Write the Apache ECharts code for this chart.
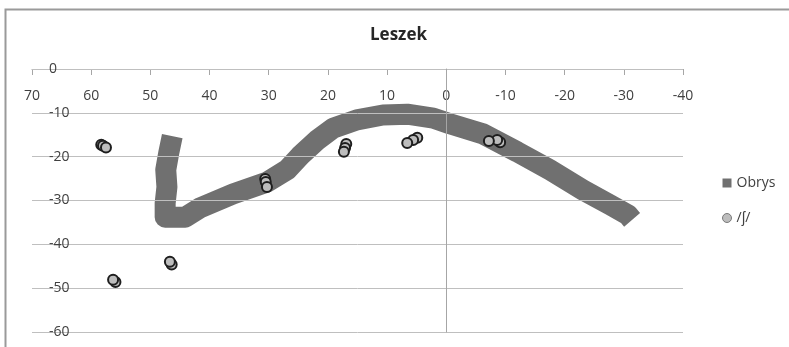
<!DOCTYPE html>
<html>
<head>
<meta charset="utf-8">
<script src="https://cdn.jsdelivr.net/npm/echarts@6/dist/echarts.min.js"></script>
<style>
  html, body { margin: 0; padding: 0; background: #fff; }
  #chart { width: 789px; height: 347px; }
</style>
</head>
<body>
<div id="chart"></div>
<script>
// Palate outline traced as one thick stroke (x, y)
const obrysX = [46.3, 46.9, 47.4, 47.2, 47.5, 47.5, 44.1, 41.6, 36.0, 30.3, 26.9, 24.7, 21.8, 19.1, 15.1, 10.7, 6.6, 2.2, -0.6, -6.2, -12.0, -17.5, -23.1, -27.7, -30.7, -31.4];
const obrysY = [-15.3, -19.2, -23.0, -26.9, -30.6, -33.8, -33.8, -31.7, -28.5, -25.8, -23.0, -19.8, -16.2, -13.5, -11.6, -10.5, -10.3, -11.2, -12.5, -14.8, -18.9, -23.0, -27.6, -31.0, -33.3, -34.4];

// Tongue sensor positions for /ʃ/ (several repetitions per sensor)
const shX = [58.3, 58.0, 57.5, 55.9, 56.3, 46.4, 46.7, 30.6, 30.5, 30.3, 16.9, 17.1, 17.3, 4.9, 5.6, 6.6, -9.1, -8.6, -7.2];
const shY = [-17.3, -17.5, -17.9, -48.6, -48.1, -44.6, -44.0, -25.1, -25.8, -26.9, -17.1, -18.0, -18.9, -15.7, -16.2, -16.9, -16.7, -16.2, -16.4];

const seriesNames = ['Obrys', '/ʃ/'];
const titleText = 'Leszek';

const FONT = '"Open Sans", "Noto Sans", "DejaVu Sans", sans-serif';
const pair = (xs, ys) => xs.map((x, i) => [x, ys[i]]);

const chart = echarts.init(document.getElementById('chart'), null, { renderer: 'canvas' });

chart.setOption({
  animation: false,
  backgroundColor: '#ffffff',
  graphic: [{
    type: 'rect',
    left: 3, top: 7,
    shape: { width: 900, height: 500 },
    style: { fill: 'none', stroke: '#9a9a9a', lineWidth: 2 },
    silent: true
  }],
  title: {
    text: titleText,
    left: 370, top: 27,
    padding: 0,
    textStyle: { fontFamily: FONT, fontSize: 17, fontWeight: 'bold', color: '#262626' }
  },
  legend: {
    orient: 'vertical',
    left: 722, top: 176,
    padding: 0,
    itemWidth: 9, itemHeight: 9,
    itemGap: 21,
    textStyle: { fontFamily: FONT, fontSize: 14, color: '#404040', lineHeight: 14 },
    data: [
      { name: seriesNames[0], icon: 'rect' },
      { name: seriesNames[1], icon: 'circle', itemStyle: { color: '#bdbdbd', borderColor: '#7a7a7a', borderWidth: 1 } }
    ]
  },
  grid: { left: 32, right: 106, top: 69, bottom: 15, containLabel: false },
  xAxis: {
    type: 'value',
    position: 'top',
    inverse: true,
    min: -40, max: 70, interval: 10,
    axisLine: { onZero: false, lineStyle: { color: '#a6a6a6', width: 1 } },
    axisTick: { show: true, inside: true, length: 6, lineStyle: { color: '#a6a6a6' } },
    axisLabel: { inside: true, margin: 20, fontFamily: FONT, fontSize: 14, color: '#404040' },
    splitLine: { show: false }
  },
  yAxis: {
    type: 'value',
    min: -60, max: 0, interval: 10,
    axisLine: { show: true, onZero: true, lineStyle: { color: '#a6a6a6', width: 1 } },
    axisTick: { show: false },
    axisLabel: { inside: true, margin: 17, fontFamily: FONT, fontSize: 14, color: '#404040' },
    splitLine: { show: true, lineStyle: { color: '#bfbfbf', width: 1 } },
    z: 3
  },
  series: [
    {
      name: seriesNames[0],
      type: 'line',
      data: pair(obrysX, obrysY),
      symbol: 'none',
      smooth: false,
      itemStyle: { color: '#707070' },
      lineStyle: { color: '#707070', width: 21, cap: 'butt', join: 'round' },
      z: 2
    },
    {
      name: seriesNames[1],
      type: 'scatter',
      data: pair(shX, shY),
      symbol: 'circle',
      symbolSize: 10,
      itemStyle: { color: '#bdbdbd', borderColor: '#1e1e1e', borderWidth: 2, opacity: 1 },
      z: 4
    }
  ]
});
</script>
</body>
</html>
